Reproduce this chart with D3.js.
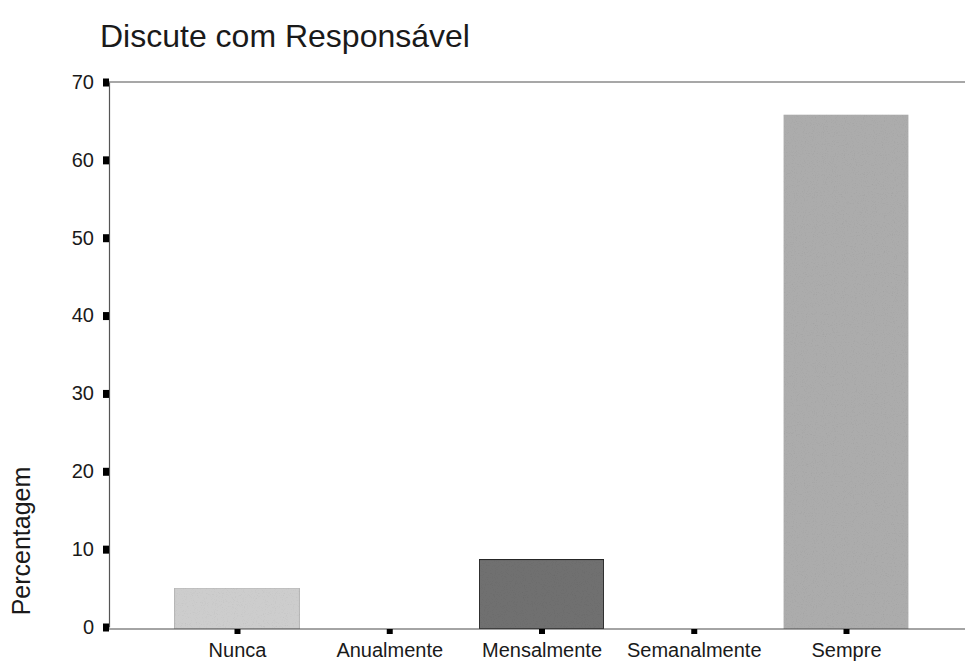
<!DOCTYPE html>
<html>
<head>
<meta charset="utf-8">
<script src="https://cdn.jsdelivr.net/npm/d3@7"></script>
<style>
  html, body { margin: 0; padding: 0; background: #fff; }
  svg { display: block; }
  text { font-family: "Liberation Sans", Arial, sans-serif; fill: #1a1a1a; }
</style>
</head>
<body>
<svg id="chart" width="965" height="664"></svg>
<script>
// Frequência com que discute com o responsável (%)
const categories = ["Nunca", "Anualmente", "Mensalmente", "Semanalmente", "Sempre"];
const percentages = [5.0, 0, 8.7, 0, 65.8];
const barFills = ["#cdcdcd", "#cdcdcd", "#6f6f6f", "#6f6f6f", "#acacac"];
const barStrokes = ["#b4b4b4", "#b4b4b4", "#262626", "#262626", "none"];
const yTickValues = [0, 10, 20, 30, 40, 50, 60, 70];
const titleText = "Discute com Responsável";
const yLabelText = "Percentagem";

const svg = d3.select("#chart");
const W = 965;
const plot = { left: 109, right: W, top: 82, bottom: 627 };

const y = d3.scaleLinear().domain([0, 70]).range([plot.bottom, plot.top]);
const x = d3.scalePoint().domain(categories).range([237, 846]);
const barW = x.step() * 0.82;

// Textura granulada leve das barras
const defs = svg.append("defs");
const grain = defs.append("filter").attr("id", "grain")
  .attr("x", 0).attr("y", 0).attr("width", 1).attr("height", 1);
grain.append("feTurbulence")
  .attr("type", "fractalNoise").attr("baseFrequency", 0.9)
  .attr("numOctaves", 2).attr("seed", 4).attr("result", "noise");
grain.append("feColorMatrix").attr("in", "noise").attr("type", "matrix")
  .attr("values", "0 0 0 0 0  0 0 0 0 0  0 0 0 0 0  0 0 0 -1.6 0.75")
  .attr("result", "dots");
grain.append("feComposite").attr("in", "dots").attr("in2", "SourceGraphic")
  .attr("operator", "in").attr("result", "dotsIn");
grain.append("feComponentTransfer").attr("in", "dotsIn").attr("result", "soft")
  .append("feFuncA").attr("type", "linear").attr("slope", 0.18);
const merge = grain.append("feMerge");
merge.append("feMergeNode").attr("in", "SourceGraphic");
merge.append("feMergeNode").attr("in", "soft");

// Título
svg.append("text")
  .attr("x", 100).attr("y", 47)
  .attr("font-size", 32)
  .text(titleText);

// Rótulo do eixo Y
svg.append("text")
  .attr("transform", `translate(30, 541) rotate(-90)`)
  .attr("text-anchor", "middle")
  .attr("font-size", 25)
  .text(yLabelText);

// Linha superior do quadro
svg.append("line")
  .attr("x1", plot.left).attr("x2", plot.right)
  .attr("y1", y(70)).attr("y2", y(70))
  .attr("stroke", "#8a8a8a").attr("stroke-width", 1.5);

// Barras
svg.append("g").selectAll("rect")
  .data(categories.map((c, i) => ({ c, v: percentages[i], fill: barFills[i], stroke: barStrokes[i] })))
  .join("rect")
  .filter(d => d.v > 0)
  .attr("x", d => x(d.c) - barW / 2)
  .attr("width", barW)
  .attr("y", d => y(d.v))
  .attr("height", d => y(0) - y(d.v) + 2)
  .attr("fill", d => d.fill)
  .attr("stroke", d => d.stroke)
  .attr("stroke-width", d => d.stroke === "#262626" ? 1.6 : 1)
  .attr("filter", "url(#grain)");

// Linha de base
svg.append("line")
  .attr("x1", plot.left).attr("x2", plot.right)
  .attr("y1", y(0) + 2).attr("y2", y(0) + 2)
  .attr("stroke", "#4a4a4a").attr("stroke-width", 1.2);

// Eixo Y
const yAxis = d3.axisLeft(y).tickValues(yTickValues).tickSize(0).tickPadding(15);
const gy = svg.append("g")
  .attr("transform", `translate(${plot.left},0)`)
  .call(yAxis);
gy.select(".domain").attr("stroke", "#555").attr("stroke-width", 1.2);
gy.selectAll(".tick text")
  .attr("font-size", 20)
  .attr("font-family", "Liberation Sans, Arial, sans-serif")
  .attr("fill", "#1a1a1a");
gy.selectAll(".tick").append("rect")
  .attr("x", -6).attr("y", -4)
  .attr("width", 6).attr("height", 8)
  .attr("fill", "#000");

// Eixo X
const xAxis = d3.axisBottom(x).tickSize(0).tickPadding(14);
const gx = svg.append("g")
  .attr("transform", `translate(0,${y(0) + 2})`)
  .call(xAxis);
gx.select(".domain").remove();
gx.selectAll(".tick text")
  .attr("font-size", 20)
  .attr("font-family", "Liberation Sans, Arial, sans-serif")
  .attr("fill", "#1a1a1a");
gx.selectAll(".tick").append("rect")
  .attr("x", -3).attr("y", 0)
  .attr("width", 6).attr("height", 5)
  .attr("fill", "#000");
</script>
</body>
</html>
